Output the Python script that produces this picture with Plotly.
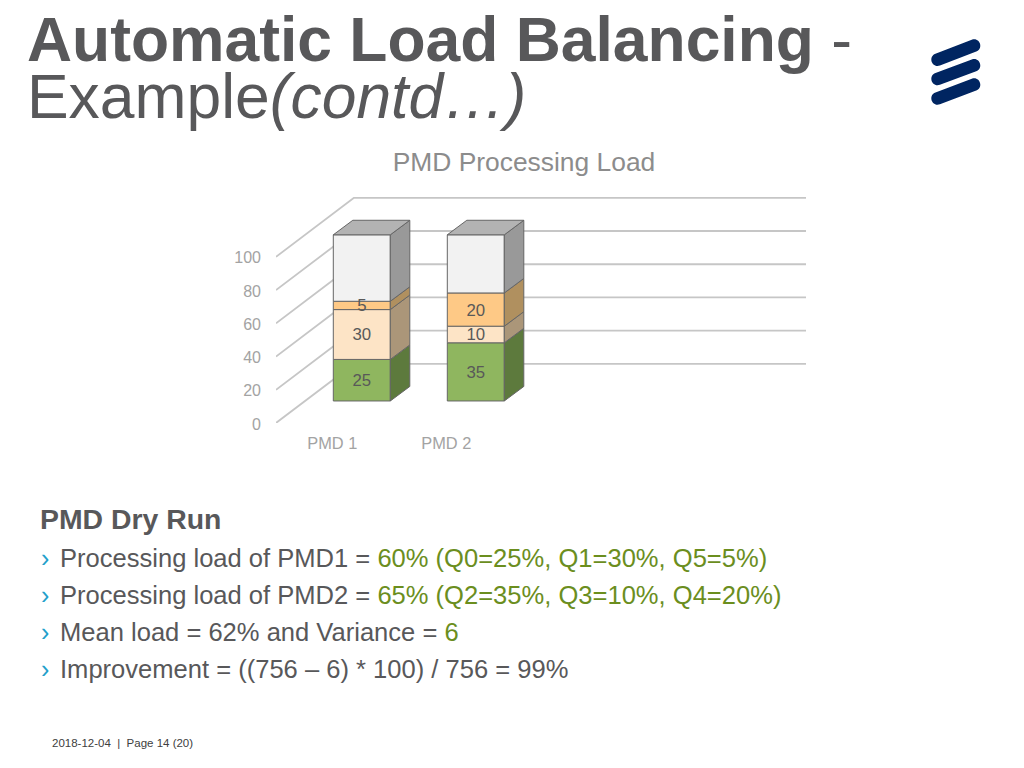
import plotly.graph_objects as go

categories = ["PMD 1", "PMD 2"]
q_low = [25, 35]
q_mid = [30, 10]
q_high = [5, 20]
q_idle = [40, 35]
tick_values = [0, 20, 40, 60, 80, 100]

series = [
    (q_low, "#8fb65f", "#5d7a3d", True),
    (q_mid, "#fde4c6", "#ab9679", True),
    (q_high, "#fec986", "#b0905f", True),
    (q_idle, "#f2f2f2", "#999999", False),
]

FONT = "Liberation Sans, Arial, sans-serif"
L, R, B, PX_PER_UNIT, Y_TOP = 276, 806, 423, 1.66, 136
PX_PER_CAT = 114.0
X_MIN = -(333.3 - L) / PX_PER_CAT
X_MAX = (R - 333.3) / PX_PER_CAT
BAR_W = 57 / PX_PER_CAT
DX = 19.5 / PX_PER_CAT
DY = 14.5 / PX_PER_UNIT
FLOOR = 22 / PX_PER_UNIT
WALL_DX = 78 / PX_PER_CAT
WALL_DY = 59 / PX_PER_UNIT
LABEL_NUDGE = 1.8 / PX_PER_UNIT
EDGE = "#666666"
GRID = "#c6c6c6"


def px(x, y):
    return (x - L) / (R - L), (B - y) / (Y_TOP * PX_PER_UNIT)


fig = go.Figure()
xs = list(range(len(categories)))
bases = [FLOOR] * len(categories)
label_x, label_y, label_text = [], [], []
for values, color, side, show in series:
    fig.add_trace(go.Bar(
        x=xs, y=values, base=list(bases), width=BAR_W, offset=0,
        marker=dict(color=color, line=dict(color=EDGE, width=1)),
        textposition="none", name="", hoverinfo="y", showlegend=False,
    ))
    for i, v in enumerate(values):
        xr = i + BAR_W
        b = bases[i]
        fig.add_trace(go.Scatter(
            x=[xr, xr + DX, xr + DX, xr, xr],
            y=[b, b + DY, b + v + DY, b + v, b],
            mode="lines", fill="toself", fillcolor=side,
            line=dict(color=EDGE, width=1), hoverinfo="skip", showlegend=False,
        ))
        if show:
            label_x.append(i + BAR_W / 2)
            label_y.append(b + v / 2 - LABEL_NUDGE)
            label_text.append(str(v))
    bases = [b + v for b, v in zip(bases, values)]

for i, top in enumerate(bases):
    fig.add_trace(go.Scatter(
        x=[i, i + DX, i + BAR_W + DX, i + BAR_W, i],
        y=[top, top + DY, top + DY, top, top],
        mode="lines", fill="toself", fillcolor="#b3b3b3",
        line=dict(color=EDGE, width=1), hoverinfo="skip", showlegend=False,
    ))

fig.add_trace(go.Scatter(
    x=label_x, y=label_y, text=label_text, mode="text", textposition="middle center",
    textfont=dict(family=FONT, size=16.8, color="#595959"),
    hoverinfo="skip", showlegend=False,
))

shapes = []
for t in tick_values:
    shapes.append(dict(
        type="path", layer="below", xref="x", yref="y",
        path=f"M {X_MIN},{t} L {X_MIN + WALL_DX},{t + WALL_DY} L {X_MAX},{t + WALL_DY}",
        line=dict(color=GRID, width=1.8), fillcolor="rgba(0,0,0,0)",
    ))


def stadium(x1, y1, x2, y2, r):
    dx, dy = x2 - x1, y2 - y1
    n = (dx * dx + dy * dy) ** 0.5
    tx, ty = dx / n * r, dy / n * r
    nx, ny = -ty, tx
    k = 1.333
    P = lambda x, y: "%.5f,%.5f" % px(x, y)
    return (
        f"M {P(x1 + nx, y1 + ny)} L {P(x2 + nx, y2 + ny)} "
        f"C {P(x2 + nx + k * tx, y2 + ny + k * ty)} {P(x2 - nx + k * tx, y2 - ny + k * ty)} {P(x2 - nx, y2 - ny)} "
        f"L {P(x1 - nx, y1 - ny)} "
        f"C {P(x1 - nx - k * tx, y1 - ny - k * ty)} {P(x1 + nx - k * tx, y1 + ny - k * ty)} {P(x1 + nx, y1 + ny)} Z"
    )


for y1, y2 in [(60, 46), (79.3, 65.7), (98.7, 85)]:
    shapes.append(dict(
        type="path", xref="paper", yref="paper",
        path=stadium(937.7, y1, 974, y2, 6.3),
        fillcolor="#002561", line=dict(width=0),
    ))

DARK = "#58585a"
OLIVE = "#6b8e1e"
CYAN = "#1e9fcb"


def note(x, y, text, size, color=DARK):
    ax, ay = px(x, y)
    return dict(
        xref="paper", yref="paper", x=ax, y=ay, text=text, showarrow=False,
        xanchor="left", yanchor="middle", align="left", borderpad=0,
        font=dict(family=FONT, size=size, color=color),
    )


def olive(s):
    return f'<span style="color:{OLIVE}">{s}</span>'


annotations = [
    note(26, 40, "<b>Automatic Load Balancing</b> -", 62.4),
    note(26, 97, "Example<i>(contd…)</i>", 62.4),
    note(39, 519, "<b>PMD Dry Run</b>", 28.4),
    note(59, 558, "Processing load of PMD1 = " + olive("60% (Q0=25%, Q1=30%, Q5=5%)"), 25.55),
    note(59, 595, "Processing load of PMD2 = " + olive("65% (Q2=35%, Q3=10%, Q4=20%)"), 25.55),
    note(59, 632, "Mean load = 62% and Variance = " + olive("6"), 25.55),
    note(59, 669, "Improvement = ((756 – 6) * 100) / 756 = 99%", 25.55),
    note(51, 743, "2018-12-04  |  Page 14 (20)", 11.5, "#404040"),
]
for y in [558, 595, 632, 669]:
    annotations.append(note(40, y, "›", 25, CYAN))

fig.update_layout(
    width=1024, height=768,
    margin=dict(l=L, r=1024 - R, b=768 - B, t=B - Y_TOP * PX_PER_UNIT, pad=0, autoexpand=False),
    paper_bgcolor="white", plot_bgcolor="white",
    barmode="overlay", showlegend=False,
    title=dict(
        text="PMD Processing Load", x=524 / 1024, xanchor="center", y=1 - 162 / 768, yanchor="middle",
        font=dict(family=FONT, size=26.4, color="#8c8c8c"),
    ),
    xaxis=dict(
        range=[X_MIN, X_MAX], tickvals=xs, ticktext=categories, showgrid=False, zeroline=False,
        showline=False, ticks="", ticklabelstandoff=9, ticklabelshift=-1,
        tickfont=dict(family=FONT, size=16.4, color="#a3a3a3"),
    ),
    yaxis=dict(
        range=[0, Y_TOP], tickvals=tick_values, showgrid=False, zeroline=False,
        showline=False, ticks="", ticklabelstandoff=14, ticklabelshift=1,
        tickfont=dict(family=FONT, size=16, color="#a3a3a3"),
    ),
    shapes=shapes,
    annotations=annotations,
)
fig.write_html("out.html", config={"displayModeBar": False},
               post_script="document.body.style.margin='0';")
